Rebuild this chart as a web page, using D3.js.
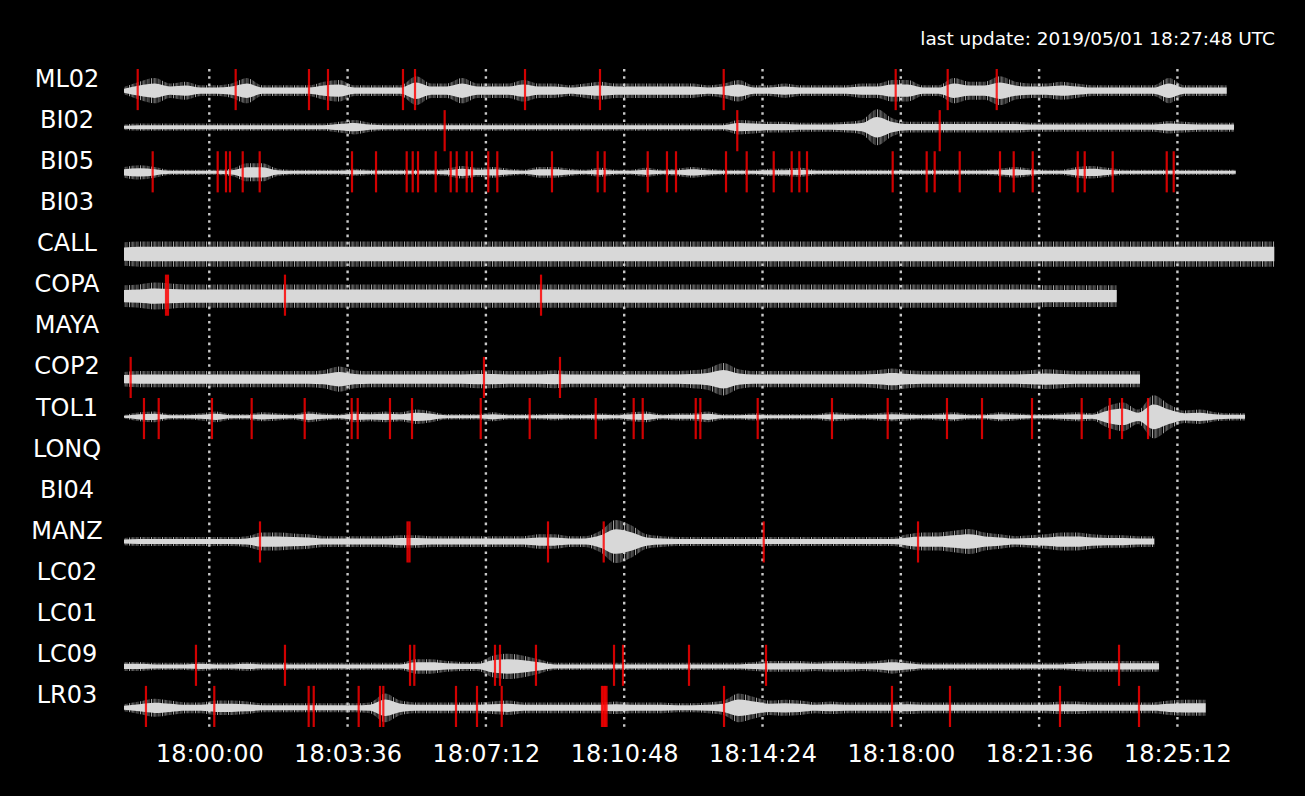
<!DOCTYPE html>
<html><head><meta charset="utf-8">
<script src="https://cdn.jsdelivr.net/npm/d3@7"></script>
<style>html,body{margin:0;background:#000;}svg{display:block}</style>
</head><body><svg id="c" width="1305" height="796"></svg>
<script>
// ---------- DATA ----------
const stations = ["ML02","BI02","BI05","BI03","CALL","COPA","MAYA","COP2","TOL1","LONQ","BI04","MANZ","LC02","LC01","LC09","LR03"];
const tickLabels = ["18:00:00","18:03:36","18:07:12","18:10:48","18:14:24","18:18:00","18:21:36","18:25:12"];
const lastUpdate = "last update: 2019/05/01 18:27:48 UTC";
// times in seconds relative to 18:00:00 UTC
const traceStart = -133.2;
const sampleStep = 24;
const traceEnd = {ML02:1589, BI02:1600.4, BI05:1603.1, CALL:1663.3, COPA:1417.2, COP2:1453.6, TOL1:1617.6, MANZ:1475.9, LC09:1483.3, LR03:1556.2};
const traceMean = {ML02:-1.1, BI02:3.4, BI05:-0.5, CALL:0, COPA:-0.9, COP2:-1.7, TOL1:1.7, MANZ:0.4, LC09:-1.1, LR03:-1.3};

// amplitude envelopes (half-height), one value every sampleStep seconds from traceStart
const envML02 = [2,5,7,4,5,3,3,4,7,3, 3,3,3,5,6,3,3,3,3,8, 4,4,7,4,4,4,6,4,4,3, 4,5,4,4,4,4,4,4,3,4, 6,3,3,4,3,3,3,3,4,4, 6,6,3,3,7,5,5,8,5,4, 4,5,4,3,3,3,3,3,7,3, 3,3];
const envBI02 = [1.5,2,2,2,2,2,2,2,2,2, 2,2,2,2,3,4,2.5,2,2,2, 2,2,2,2,2,2,2,2,2,2, 2,2,2,2,2,2,2,2,2,2, 4,3.5,3,3,2.5,2.5,2.5,3,4,10, 5,3,3,3,3,3,3,3,3,2.5, 2.5,2.5,2.5,2.5,2.5,2.5,2.5,2.5,3.5,3, 2.5,2.5,2.5];
const envBI05 = [3,4,3,1.5,1.5,1.5,1.5,2,5,5, 2,1.5,1.5,1.5,1.5,2,1.5,1.5,1.5,1.5, 1.5,2,3.5,2.5,3,2,1.5,3,3,2, 1.5,2.5,1.5,1.5,2.5,1.5,2,3,2,1.5, 1.5,1.5,2,2,2.5,1.5,1.5,1.5,1.5,1.5, 1.5,1.5,1.5,1.5,1.5,1.5,1.5,2,3,2, 1.5,1.5,3,3.5,2.5,1.5,1.5,1.5,1.5,1.5, 1.5,1.5,1.5];
const envCALL = [6.5,7,7,7,7,7,7,7,7,7, 7,7,7,7,7,7,7,7,7,7, 7,7,7,7,7,7,7,7,7,7, 7,7,7,7,7,7,7,7,7,7, 7,7,7,7,7,7,7,7,7,7, 7,7,7,7,7,7,7,7,7,7, 7,7,7,7,7,7,7,7,7,7, 7,7,7,7,7];
const envCOPA = [6,6.5,7.5,7,6.5,6.5,6.5,6.5,6.5,6.5, 6.5,6.5,6.5,6.5,6.5,6.5,6.5,6.5,6.5,6.5, 6.5,6.5,6.5,6.5,6.5,6.5,6.5,6.5,6.5,6.5, 6.5,6.5,6.5,6.5,6.5,6.5,6.5,6.5,6.5,6.5, 6.5,6.5,6.5,6.5,6.5,6.5,6.5,6.5,6.5,6.5, 6.5,6.5,6.5,6.5,6.5,6.5,6.5,6.5,6.5,6.5, 6,6,6,6,6];
const envCOP2 = [4,4.5,4.5,4.5,4.5,4.5,4.5,4.5,4.5,4.5, 4.5,4.5,4.5,5,7,5,4.5,4.5,4.5,4.5, 4.5,4.5,4.5,5,5,4.5,4.5,4.5,5,4.5, 4.5,4.5,4.5,4.5,4.5,4.5,4.5,5,6,9, 5.5,4.5,4.5,4.5,4.5,4.5,4.5,4.5,4.5,5, 6,5,4.5,4.5,4.5,4.5,4.5,4.5,4.5,5, 5.5,5,4.5,4.5,4.5,4.5,4.5];
const envTOL1 = [1,2.5,3,1.5,1.5,2,3,1.5,1.5,2.5, 2,1.5,3,2,1.5,3,2.5,3,2.5,4, 3,1.5,1.5,1.5,2.5,1.5,1.5,1.5,2,1.5, 1.5,2,1.5,2.5,3,1.5,2,2,3,1.5, 1.5,2,1.5,1.5,1.5,1.5,2.5,2,1.5,2, 2.5,2,1.5,2,2.5,1.5,1.5,2.5,2,1.5, 1.5,2,2.5,2,6,8,4,12,7,3.5, 4,2.5,2];
const envMANZ = [2,2.5,2.5,2.5,2.5,2.5,2.5,2.5,3,5, 5,4.5,4,3,3,3,3,3,3.5,3.5, 3,3,3,3,3,3,3,4,4,3, 3,6,12,9,4,3,2.5,2.5,2.5,2.5, 2.5,2.5,2.5,2.5,2.5,2.5,2.5,2.5,2.5,2.5, 2.5,4,5,5,6,7,5,4,3,3.5, 4,5,5,4,3.5,3.5,3,3];
const envLC09 = [2.5,2.5,2,2,2,2.5,2,2,2.5,2, 2,2,2,2,2,2,2,2,2,4, 4,3,2.5,2.5,6,7,6,4,2,2, 2,2,2,2,2,2,2,2,2,2, 2,2.5,3,3,3,2.5,3,3,2.5,3, 4,3,2,2,2,2,2,2,2,2, 2,2,2.5,3,3,3,3,3];
const envLR03 = [2,3.5,5,4,3,3,4,4,3.5,2.5, 2.5,2.5,2.5,2.5,2.5,2.5,3,8,4,3, 3,3,3,3,3.5,4,3,3,3,3, 3,3,3.5,3,3,3,2.5,2.5,3,4, 8,6,4,4.5,4,3,3.5,3,3,3, 3,3.5,3,3,3,3,3,3,3,3, 3,3.5,3.5,3,3,3,3,3,4,4.5, 4.5];

// picks (seconds relative to 18:00:00 UTC)
const picksML02 = [-111.8,41.2,155.7,185.4,302.5,321.3,493.1,610.2,803.4,1072.0,1153.2,1229.8];
const picksBI02 = [367.6,824.6,1140.8];
const picksBI05 = [-88.4,13.1,26.1,32.3,52.2,78.7,222.9,260.4,308.3,317.7,326.0,353.6,377.0,386.4,402.0,410.3,435.7,449.8,535.2,606.6,617.5,684.7,714.8,728.9,807.0,839.3,881.5,909.6,921.5,933.5,1067.3,1120.4,1132.9,1172.0,1234.9,1256.3,1286.0,1356.3,1367.2,1410.9,1495.3,1506.2];
const picksCOPA = [-67.6,-64.5,118.2,518.1];
const picksCOP2 = [-122.8,429.0,547.7];
const picksTOL1 = [-102.0,-79.0,4.2,66.2,149.0,222.4,231.8,282.2,316.6,423.9,500.4,603.5,662.8,676.9,759.7,766.9,856.5,972.5,1059.5,1152.1,1206.8,1284.9,1362.5,1406.3,1425.5,1466.1];
const picksMANZ = [79.2,309.6,312.7,529.0,616.0,865.9,1106.9];
const picksLC09 = [-20.8,118.2,313.5,320.2,446.2,454.0,510.2,632.1,646.1,749.2,869.5,1420.8];
const picksLR03 = [-98.9,7.8,155.2,163.1,233.3,266.6,271.8,385.3,418.1,456.7,613.3,615.7,618.0,620.4,803.9,1066.2,1156.8,1328.6,1452.0];

const envelopes = {ML02:envML02, BI02:envBI02, BI05:envBI05, CALL:envCALL, COPA:envCOPA, COP2:envCOP2, TOL1:envTOL1, MANZ:envMANZ, LC09:envLC09, LR03:envLR03};
const picks = {ML02:picksML02, BI02:picksBI02, BI05:picksBI05, COPA:picksCOPA, COP2:picksCOP2, TOL1:picksTOL1, MANZ:picksMANZ, LC09:picksLC09, LR03:picksLR03};

// ---------- DRAW ----------
const svg = d3.select("#c");
const FONT = "DejaVu Sans, sans-serif";
svg.append("rect").attr("width",1305).attr("height",796).attr("fill","#000");

// hairline texture for the fuzzy edge of the traces (style only)
const pat = svg.append("defs").append("pattern").attr("id","fuzz")
  .attr("patternUnits","userSpaceOnUse").attr("width",11).attr("height",40);
[[0.5,0.9],[2.5,0.45],[4.5,0.75],[6,0.3],[8,0.85],[9.8,0.4]].forEach(([px,op]) =>
  pat.append("rect").attr("x",px).attr("y",0).attr("width",0.9).attr("height",40)
     .attr("fill","#d0d0d0").attr("opacity",op));

const x = d3.scaleLinear().domain([traceStart, d3.max(Object.values(traceEnd))]).range([124, 1274.3]);
const y = d3.scaleBand().domain(stations).range([69, 727]);
const amp = d3.scaleLinear().domain([0,20]).range([0, y.bandwidth()/2]);
const ampHalo = d3.scaleLinear().domain([0,20]).range([0, y.bandwidth()/2*1.75]);
const toSec = s => { const p = s.split(":").map(Number); return (p[0]-18)*3600 + p[1]*60 + p[2]; };
const tickSecs = tickLabels.map(toSec);

// dotted time grid
svg.append("g").selectAll("line").data(tickSecs).join("line")
  .attr("x1", d=>x(d)).attr("x2", d=>x(d))
  .attr("y1", y.range()[0]).attr("y2", y.range()[1])
  .attr("stroke", "#c8c8c8").attr("stroke-width", 2.4).attr("stroke-dasharray", "2.6,4.6");

// traces
const traces = svg.append("g");
Object.keys(envelopes).forEach(st => {
  const env = envelopes[st], end = traceEnd[st];
  const pts = [];
  env.forEach((a,i) => { const t = traceStart + i*sampleStep; if (t <= end) pts.push({t, a}); });
  pts.push({t:end, a:pts[pts.length-1].a});
  const cy = y(st) + y.bandwidth()/2 - amp(traceMean[st]);
  const mk = sc => d3.area().curve(d3.curveMonotoneX)
      .x(d=>x(d.t)).y0(d=>cy - sc(d.a)).y1(d=>cy + sc(d.a));
  traces.append("path").attr("d", mk(ampHalo)(pts)).attr("fill","url(#fuzz)");
  traces.append("path").attr("d", mk(amp)(pts)).attr("fill","#d8d8d8");
});

// picks
const pk = svg.append("g");
Object.keys(picks).forEach(st => {
  pk.selectAll(null).data(picks[st]).join("line")
    .attr("x1", d=>x(d)).attr("x2", d=>x(d))
    .attr("y1", y(st)).attr("y2", y(st)+y.bandwidth())
    .attr("stroke", "#ff0000").attr("stroke-width", 2.2).attr("opacity", 0.82);
});

// station labels
svg.append("g").selectAll("text").data(stations).join("text")
  .attr("x", 67).attr("y", d=>y(d)+y.bandwidth()/2-3)
  .attr("text-anchor","middle").attr("fill","#fff")
  .style("font-family",FONT).style("font-size","24px").text(d=>d);

// time axis
const axis = d3.axisBottom(x).tickValues(tickSecs).tickFormat((d,i)=>tickLabels[i]).tickSize(0).tickPadding(0);
const ag = svg.append("g").attr("transform","translate(0,762)").call(axis);
ag.select(".domain").remove();
ag.selectAll("text").attr("y",0).attr("dy",null).attr("fill","#fff")
  .style("font-family",FONT).style("font-size","24px");

// last update
svg.append("text").attr("x",1275).attr("y",45).attr("text-anchor","end").attr("fill","#fff")
  .style("font-family",FONT).style("font-size","18.5px").text(lastUpdate);
</script></body></html>
